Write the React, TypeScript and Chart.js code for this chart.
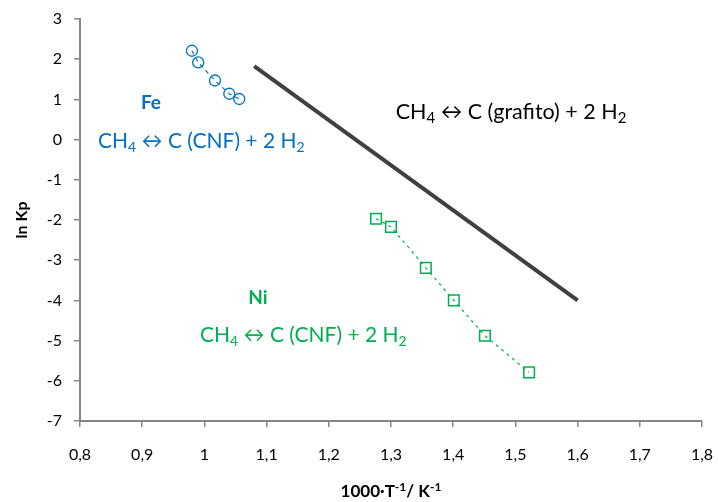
import React, { useEffect, useRef } from "react";
import { Chart, registerables } from "chart.js";

Chart.register(...registerables);

// Fe data (blue circles)
const feX = [0.98, 0.99, 1.017, 1.04, 1.056];
const feY = [2.21, 1.92, 1.47, 1.14, 1.01];
// Ni data (green squares)
const niX = [1.276, 1.3, 1.356, 1.401, 1.451, 1.522];
const niY = [-1.97, -2.17, -3.19, -4.0, -4.88, -5.79];
// graphite equilibrium line
const grafX = [1.08, 1.6];
const grafY = [1.83, -4.0];

const xMin = 0.8, xMax = 1.8, xStep = 0.1;
const yMin = -7, yMax = 3, yStep = 1;

const BLUE = "#0070C0";
const GREEN = "#00B050";
const DARK = "#404040";
const AXIS = "#868686";
const FONT = "Lato, 'Open Sans', sans-serif";

type Seg = { t: string; sub?: boolean; sup?: boolean };
const eqCNF: Seg[] = [{ t: "CH" }, { t: "4", sub: true }, { t: " \u2194 C (CNF) + 2 H" }, { t: "2", sub: true }];
const eqGraf: Seg[] = [{ t: "CH" }, { t: "4", sub: true }, { t: " \u2194 C (grafito) + 2 H" }, { t: "2", sub: true }];
const xTitle: Seg[] = [{ t: "1000\u00B7T" }, { t: "-1", sup: true }, { t: "/ K" }, { t: "-1", sup: true }];

// annotations: [segments, x, y, color, size, bold]
const labels: [Seg[], number, number, string, number, boolean][] = [
  [[{ t: "Fe" }], 0.914, 0.91, BLUE, 19, true],
  [eqCNF, 0.995, -0.03, BLUE, 21, false],
  [[{ t: "Ni" }], 1.086, -3.93, GREEN, 19, true],
  [eqCNF, 1.159, -4.87, GREEN, 21, false],
  [eqGraf, 1.493, 0.69, "#000", 21.5, false],
];

const toPts = (xs: number[], ys: number[]) => xs.map((x, i) => ({ x, y: ys[i] }));

function drawRich(ctx: CanvasRenderingContext2D, segs: Seg[], cx: number, cy: number, size: number, color: string, bold: boolean) {
  const w = bold ? "bold " : "";
  const fontFor = (s: Seg) => `${w}${s.sub || s.sup ? Math.round(size * 0.68) : size}px ${FONT}`;
  let total = 0;
  const widths = segs.map((s) => {
    ctx.font = fontFor(s);
    const m = ctx.measureText(s.t).width;
    total += m;
    return m;
  });
  let x = cx - total / 2;
  ctx.fillStyle = color;
  ctx.textBaseline = "middle";
  ctx.textAlign = "left";
  segs.forEach((s, i) => {
    ctx.font = fontFor(s);
    let y = cy;
    if (s.sub) y += size * 0.3;
    if (s.sup) y -= size * 0.3;
    ctx.fillText(s.t, x, y);
    x += widths[i];
  });
}

const annotPlugin = {
  id: "annot",
  afterDatasetsDraw(chart: any) {
    const { ctx, scales, chartArea } = chart;
    ctx.save();
    labels.forEach(([segs, x, y, color, size, bold]) => {
      drawRich(ctx, segs, scales.x.getPixelForValue(x), scales.y.getPixelForValue(y), size, color, bold);
    });
    // axis titles
    drawRich(ctx, xTitle, (chartArea.left + chartArea.right) / 2, 492, 17, "#000", true);
    ctx.translate(22, (chartArea.top + chartArea.bottom) / 2);
    ctx.rotate(-Math.PI / 2);
    drawRich(ctx, [{ t: "ln Kp" }], 0, 0, 16, "#000", true);
    ctx.restore();
  },
};

const fmt = (v: number) => {
  const r = Math.round(v * 10) / 10;
  return r.toString().replace(".", ",");
};

export default function App() {
  const ref = useRef<HTMLCanvasElement>(null);
  useEffect(() => {
    document.body.style.margin = "0";
    const chart = new Chart(ref.current!, {
      type: "scatter",
      data: {
        datasets: [
          {
            label: "Fe",
            data: toPts(feX, feY),
            showLine: true,
            borderColor: BLUE,
            borderWidth: 1.2,
            borderDash: [4, 4],
            pointStyle: "circle",
            pointRadius: 5.5,
            pointBorderWidth: 1.3,
            pointBorderColor: BLUE,
            pointBackgroundColor: "rgba(0,0,0,0)",
          },
          {
            label: "Ni",
            data: toPts(niX, niY),
            showLine: true,
            borderColor: GREEN,
            borderWidth: 1.2,
            borderDash: [3, 4],
            pointStyle: "rect",
            pointRadius: 7.5,
            pointBorderWidth: 1.5,
            pointBorderColor: GREEN,
            pointBackgroundColor: "rgba(0,0,0,0)",
          },
          {
            label: "grafito",
            data: toPts(grafX, grafY),
            showLine: true,
            borderColor: DARK,
            borderWidth: 4,
            pointRadius: 0,
          },
        ],
      },
      options: {
        animation: false,
        responsive: false,
        layout: { padding: { left: 0, right: 16, top: 19, bottom: 0 } },
        plugins: { legend: { display: false }, tooltip: { enabled: false } },
        scales: {
          x: {
            type: "linear",
            min: xMin,
            max: xMax,
            afterFit: (s: any) => { s.height = 81; s.paddingRight = 0; s.paddingLeft = 0; },
            afterBuildTicks: (s: any) => {
              const t = [];
              for (let v = xMin; v <= xMax + 1e-9; v += xStep) t.push({ value: Math.round(v * 10) / 10 });
              s.ticks = t;
            },
            ticks: { callback: (v: any) => fmt(Number(v)), color: "#000", font: { family: FONT, size: 16 }, padding: 18, maxRotation: 0 },
            grid: { drawOnChartArea: false, color: AXIS, tickLength: 6, lineWidth: 1.5 },
            border: { color: AXIS, width: 2 },
          },
          y: {
            type: "linear",
            min: yMin,
            max: yMax,
            afterFit: (s: any) => { s.width = 80; s.paddingTop = 0; s.paddingBottom = 0; },
            ticks: { stepSize: yStep, callback: (v: any) => fmt(Number(v)), color: "#000", font: { family: FONT, size: 16 }, padding: 12 },
            grid: { drawOnChartArea: false, color: AXIS, tickLength: 6, lineWidth: 1.5 },
            border: { color: AXIS, width: 2 },
          },
        },
      },
      plugins: [annotPlugin],
    } as any);
    return () => chart.destroy();
  }, []);
  return <canvas ref={ref} width={718} height={502} style={{ display: "block" }} />;
}
